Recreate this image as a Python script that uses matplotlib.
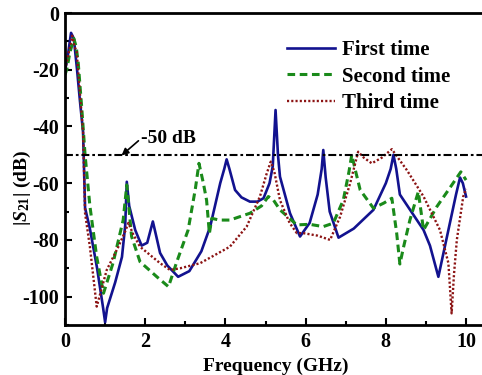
import matplotlib
matplotlib.use("Agg")
import matplotlib.pyplot as plt
from matplotlib.ticker import MultipleLocator

plt.rcParams['font.family'] = ['Liberation Serif', 'DejaVu Serif']
plt.rcParams['font.weight'] = 'bold'
plt.rcParams['axes.unicode_minus'] = False
plt.rcParams['mathtext.fontset'] = 'custom'
plt.rcParams['mathtext.rm'] = 'Liberation Serif:bold'
plt.rcParams['mathtext.it'] = 'Liberation Serif:bold:italic'
plt.rcParams['mathtext.bf'] = 'Liberation Serif:bold'

# First time
f1 = [0.0, 0.05, 0.15, 0.22, 0.30, 0.37, 0.45, 0.50, 0.62, 0.80, 0.95, 1.00, 1.05, 1.25, 1.42, 1.50, 1.54,
      1.60, 1.75, 1.91, 2.05, 2.19, 2.28, 2.37, 2.55, 2.82, 3.10, 3.40, 3.62, 3.87, 3.97, 4.03, 4.10, 4.24,
      4.40, 4.61, 4.80, 4.95, 5.10, 5.18, 5.25, 5.31, 5.36, 5.61, 5.86, 6.10, 6.30, 6.40, 6.44, 6.50, 6.60,
      6.82, 7.20, 7.69, 8.00, 8.12, 8.19, 8.26, 8.35, 8.94, 9.10, 9.31, 9.56, 9.75, 9.85, 9.92, 10.0]
s1 = [-20, -17, -7, -9, -20, -30.7, -42, -68.7, -76, -90, -104, -109, -104, -95, -86, -75, -59.5,
      -68, -76.5, -82, -81, -73.5, -79, -84.6, -89, -93, -91, -84, -75.3, -60, -55, -51.6, -55, -62.4,
      -65, -66.5, -66.5, -65.3, -60, -54, -34.2, -50, -57.7, -70.6, -78.8, -74, -64, -55, -48.3, -58, -70,
      -79.2, -76, -69.4, -60, -55, -50, -55, -64, -76.5, -82, -93, -76.5, -64, -58, -60, -64.7]

# Second time
f2 = [0.0, 0.05, 0.12, 0.22, 0.28, 0.33, 0.37, 0.42, 0.50, 0.62, 0.79, 0.96, 1.20, 1.45, 1.54, 1.66, 1.87,
      2.29, 2.58, 2.78, 3.07, 3.25, 3.34, 3.45, 3.53, 3.60, 3.66, 3.85, 4.11, 4.61, 4.90, 5.07, 5.20, 5.36,
      5.78, 6.10, 6.44, 6.69, 6.94, 7.08, 7.15, 7.25, 7.36, 7.69, 7.95, 8.15, 8.27, 8.35, 8.45, 8.60, 8.81,
      8.94, 9.27, 9.56, 9.87, 10.0]
s2 = [-21.8, -19.5, -14, -9, -12, -17.7, -25, -34, -50, -68, -86, -98.8, -88, -73, -60.6, -78.8, -87.7,
      -93, -96.5, -88, -76.5, -62, -53, -60, -66, -77.7, -72.4, -73, -73, -70.6, -68, -64.7, -66, -69.4,
      -74.7, -74.5, -75.3, -74.1, -65.9, -56, -50, -56, -62.4, -68.8, -67, -65.3, -77.6, -88.5, -82, -73, -63,
      -76.5, -68.3, -62.4, -56, -58.9]

# Third time
f3 = [0.0, 0.05, 0.18, 0.24, 0.29, 0.37, 0.45, 0.50, 0.62, 0.79, 1.04, 1.33, 1.50, 1.58, 1.70, 1.87, 2.37,
      2.62, 2.87, 3.37, 4.11, 4.53, 4.86, 5.02, 5.13, 5.22, 5.36, 5.60, 5.78, 5.94, 6.30, 6.61, 6.86, 7.11,
      7.31, 7.45, 7.65, 7.90, 8.15, 8.30, 8.52, 8.94, 9.35, 9.56, 9.64, 9.70, 9.77, 9.93, 10.0]
s3 = [-20, -17, -8, -12, -13.6, -28, -42, -70.6, -82.4, -103.5, -90.6, -82.4, -77, -74, -78, -82.4, -88.2,
      -90.6, -90, -88.2, -82.4, -75.3, -64.7, -57, -52.4, -56, -66, -74, -77.6, -77.6, -78.5, -80, -71.8, -60,
      -48.9, -51, -53, -51, -48, -51, -55.3, -64.7, -76.5, -88.2, -105.9, -92, -80, -64.7, -62]

ref_level = -50

fig = plt.figure(figsize=(4.82, 3.75), dpi=100)
ax = fig.add_axes([0.1349, 0.1333, 0.8736, 0.832])

ax.plot(f1, s1, color='#12128f', lw=1.9, ls='-', label='First time')
ax.plot(f2, s2, color='#1a8a1a', lw=2.2, ls=(0, (2.5, 1.5)), label='Second time')
ax.plot(f3, s3, color='#8c1414', lw=1.7, ls=(0, (0.9, 0.9)), label='Third time')
ax.axhline(ref_level, color='black', lw=1.5, ls=(0, (3.8, 1.4, 1.3, 1.4)))

ax.annotate('-50 dB', xy=(1.41, -50.2), xytext=(1.90, -44.2), fontsize=14, fontweight='bold',
            ha='left', va='center',
            arrowprops=dict(arrowstyle='-|>', color='black', lw=1.2, mutation_scale=10,
                            shrinkA=0, shrinkB=0, relpos=(0, 0.5)))

ax.set_xlim(0, 10.5)
ax.set_ylim(-110, 0)
ax.xaxis.set_major_locator(MultipleLocator(2))
ax.xaxis.set_minor_locator(MultipleLocator(1))
ax.yaxis.set_major_locator(MultipleLocator(20))
ax.yaxis.set_minor_locator(MultipleLocator(10))
ax.tick_params(which='both', direction='in', width=1.5, labelsize=14.5)
ax.tick_params(which='major', length=5)
ax.tick_params(which='minor', length=3)
ax.tick_params(axis='x', pad=5)
ax.tick_params(axis='y', pad=4)
for lab in ax.get_xticklabels() + ax.get_yticklabels():
    lab.set_fontweight('bold')
for sp in ax.spines.values():
    sp.set_linewidth(2)

ax.set_xlabel('Frequency (GHz)', fontsize=14, fontweight='bold', labelpad=4)
ax.set_ylabel(r'|$S_{21}$| (dB)', fontsize=14, fontweight='bold')
ax.yaxis.set_label_coords(-0.075, 0.44)

leg = ax.legend(loc='upper left', bbox_to_anchor=(0.527, 0.912), frameon=False,
                borderaxespad=0, borderpad=0,
                prop={'family': 'Liberation Serif', 'weight': 'bold', 'size': 15},
                handlelength=2.3, handletextpad=0.35, labelspacing=0.3)

fig.savefig('out.png', dpi=100)
